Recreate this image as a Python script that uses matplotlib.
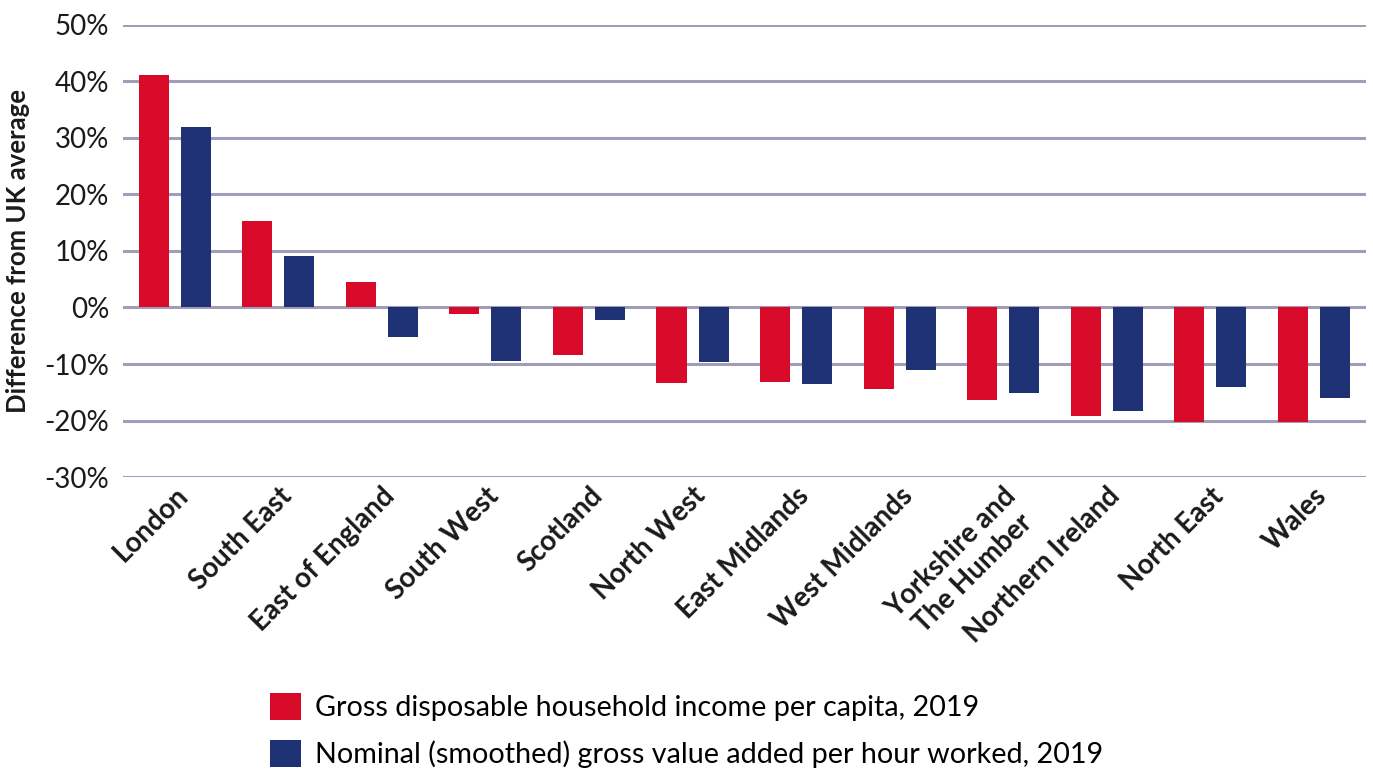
import matplotlib
matplotlib.use("Agg")
import matplotlib.pyplot as plt
import numpy as np
from matplotlib.patches import Patch

categories = ["London", "South East", "East of England", "South West", "Scotland",
              "North West", "East Midlands", "West Midlands", "Yorkshire and\nThe Humber",
              "Northern Ireland", "North East", "Wales"]
gdhi = [41.1, 15.3, 4.5, -1.1, -8.4, -13.3, -13.2, -14.4, -16.4, -19.2, -20.2, -20.2]
gva = [31.9, 9.1, -5.2, -9.4, -2.2, -9.6, -13.5, -11.0, -15.1, -18.3, -14.1, -16.0]
yticks = [-30, -20, -10, 0, 10, 20, 30, 40, 50]
series_names = ["Gross disposable household income per capita, 2019",
                "Nominal (smoothed) gross value added per hour worked, 2019"]

RED = "#D80A2A"
BLUE = "#1E3174"
GRID = "#A19DB8"

plt.rcParams['font.family'] = ['Lato', 'DejaVu Sans']

fig = plt.figure(figsize=(13.73, 7.77), dpi=100)
ax = fig.add_axes([0.0896, 0.386, 0.905, 0.582])

x = np.arange(len(categories))
w = 0.29
off = 0.203
ax.bar(x - off, gdhi, width=w, color=RED, zorder=3)
ax.bar(x + off, gva, width=w, color=BLUE, zorder=3)

ax.set_xlim(-0.5, len(categories) - 0.5)
ax.set_ylim(-30, 50)
ax.set_yticks(yticks)
ax.set_yticklabels([f"{v}%" for v in yticks], fontsize=20, color="#1a1a1a")
ax.yaxis.grid(True, color=GRID, linewidth=2.2, zorder=0)
ax.tick_params(axis='y', length=0, pad=10)
ax.tick_params(axis='x', length=0, pad=4)
for s in ax.spines.values():
    s.set_visible(False)

ax.set_xticks(x)
ax.set_xticklabels(categories, rotation=45, ha='right', rotation_mode='anchor',
                   fontsize=20, fontweight='bold', color="#1a1a1a", multialignment='center')

ax.set_ylabel("Difference from UK average", fontsize=18.5, fontweight='bold', labelpad=10, color="#1a1a1a")

handles = [Patch(facecolor=RED, edgecolor='none'), Patch(facecolor=BLUE, edgecolor='none')]
fig.legend(handles, series_names, loc='upper left', bbox_to_anchor=(0.197, 0.108),
           frameon=False, fontsize=20.7, handlelength=1.05, handleheight=1.05,
           handletextpad=0.5, labelspacing=0.65, borderaxespad=0, borderpad=0)

fig.savefig("out.png", dpi=100)
